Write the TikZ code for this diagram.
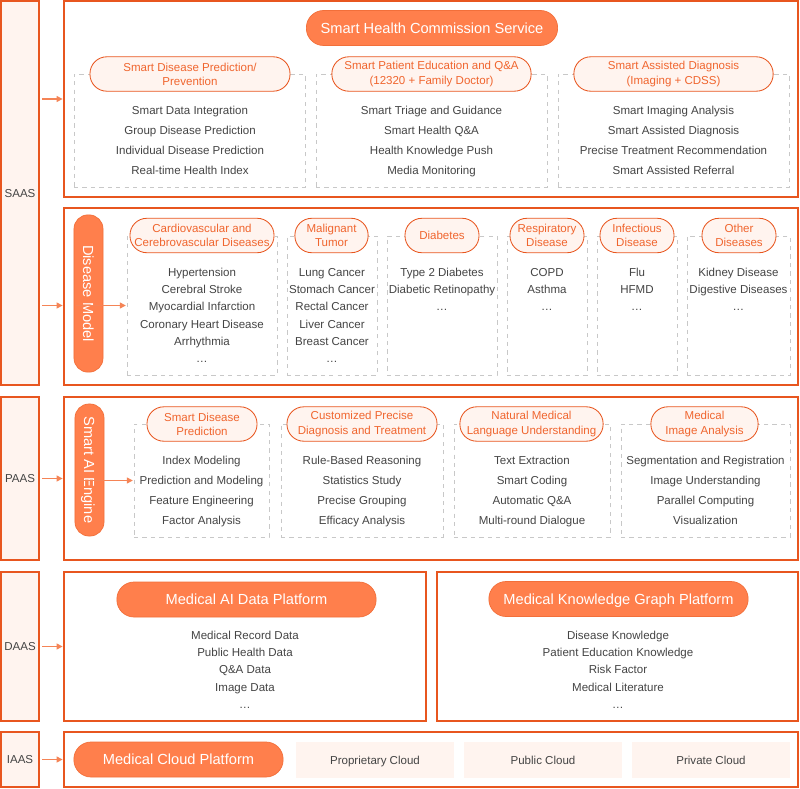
\documentclass[tikz,border=0pt]{standalone}
\usepackage{fontspec}
\setmainfont{Liberation Sans}
\usetikzlibrary{fit,calc,arrows.meta}

\definecolor{lineorange}{HTML}{E8561F}
\definecolor{pillorange}{HTML}{FF7F4C}
\definecolor{pillline}{HTML}{F26F3A}
\definecolor{paleorange}{HTML}{FFF4EF}
\definecolor{suborange}{HTML}{F0652E}
\definecolor{dashgray}{HTML}{C8C8C8}
\definecolor{itemgray}{HTML}{444444}
\definecolor{arroworange}{HTML}{F58456}

\begin{document}
\begin{tikzpicture}[%
    x=0.025cm, y=-0.025cm, >={Triangle[length=4.2pt,width=4.2pt]},
    font=\fontsize{8.2}{10}\selectfont,
    layerbox/.style={draw=lineorange, fill=paleorange, line width=0.8pt, inner sep=0pt,
      text=itemgray, minimum width=0.95cm, text height=5.9pt, text depth=0pt},
    frame/.style={draw=lineorange, fill=white, line width=0.8pt, inner sep=0pt},
    dbox/.style={draw=dashgray, dashed, line width=0.5pt, inner sep=0pt},
    bigpill/.style={fill=pillorange, draw=pillline, line width=0.5pt, text=white,
      rounded corners=0.43cm, minimum height=0.875cm, text height=7.5pt, text depth=0pt,
      font=\fontsize{10.4}{12}\selectfont},
    sidepill/.style={bigpill, rotate=-90, rounded corners=0.35cm, minimum height=0.725cm},
    subpill/.style={fill=paleorange, draw=lineorange, line width=0.6pt, text=suborange,
      align=center, rounded corners=0.42cm, minimum height=0.86cm, inner sep=1pt},
    item/.style={text=itemgray, inner sep=1pt, text height=5.9pt, text depth=0pt},
    cloud/.style={fill=paleorange, inner sep=0pt, text=itemgray, minimum width=3.95cm,
      minimum height=0.9cm, text height=5.9pt, text depth=0pt},
    arr/.style={->, draw=arroworange, line width=0.9pt, shorten <=2pt, shorten >=0.6pt}
  ]
    \useasboundingbox (0,0) rectangle (800,788);

    % layers on the left
    \node[layerbox, minimum height=9.6cm]   (saas) at (20,193)   {SAAS};
    \node[layerbox, minimum height=4.075cm] (paas) at (20,478.5) {PAAS};
    \node[layerbox, minimum height=3.725cm] (daas) at (20,646.5) {DAAS};
    \node[layerbox, minimum height=1.375cm] (iaas) at (20,759.5) {IAAS};

    % frames
    \node[frame, fit={(64,1) (798,197)}]     (frSvc)    {};
    \node[frame, fit={(64,208) (798,385)}]   (frModel)  {};
    \node[frame, fit={(64,397) (798,560)}]   (frEngine) {};
    \node[frame, fit={(64,572) (426,721)}]   (frData)   {};
    \node[frame, fit={(437,572) (798,721)}]  (frGraph)  {};
    \node[frame, fit={(64,732) (798,787)}]   (frCloud)  {};

    % SAAS: service
    \node[bigpill, minimum width=6.28cm] (svc) at (432,28) {Smart Health Commission Service};

    \node[dbox, fit={(74,74) (305,187)}]   (svcA) {};
    \node[dbox, fit={(316,74) (547,187)}]  (svcB) {};
    \node[dbox, fit={(558,74) (789,187)}]  (svcC) {};
    \node[subpill, minimum width=5cm]    (svcA-t) at (190,74)   {Smart Disease Prediction/\\Prevention};
    \node[subpill, minimum width=4.98cm] (svcB-t) at (431.5,74) {Smart Patient Education and Q\&A\\(12320 + Family Doctor)};
    \node[subpill, minimum width=4.98cm] (svcC-t) at (673.5,74) {Smart Assisted Diagnosis\\(Imaging + CDSS)};

    \foreach \txt [count=\i] in {Smart Data Integration, Group Disease Prediction,
        Individual Disease Prediction, Real-time Health Index}
      {\node[item] (svcA-\i) at (190,90+20*\i) {\txt};}
    \foreach \txt [count=\i] in {Smart Triage and Guidance, Smart Health Q\&A,
        Health Knowledge Push, Media Monitoring}
      {\node[item] (svcB-\i) at (431.5,90+20*\i) {\txt};}
    \foreach \txt [count=\i] in {Smart Imaging Analysis, Smart Assisted Diagnosis,
        Precise Treatment Recommendation, Smart Assisted Referral}
      {\node[item] (svcC-\i) at (673.5,90+20*\i) {\txt};}

    % SAAS: disease model
    \node[sidepill, minimum width=3.93cm] (model) at (88.5,293.5) {Disease Model};

    \node[dbox, fit={(127,236) (277,375)}] (cardio) {};
    \node[dbox, fit={(287,236) (377,375)}] (tumor)  {};
    \node[dbox, fit={(387,236) (497,375)}] (diab)   {};
    \node[dbox, fit={(507,236) (587,375)}] (resp)   {};
    \node[dbox, fit={(597,236) (677,375)}] (infect) {};
    \node[dbox, fit={(687,236) (790,375)}] (other)  {};
    \node[subpill, minimum width=3.6cm]  (cardio-t) at (202,235.5)   {Cardiovascular and\\Cerebrovascular Diseases};
    \node[subpill, minimum width=1.83cm] (tumor-t)  at (331.5,235.5) {Malignant\\Tumor};
    \node[subpill, minimum width=1.85cm] (diab-t)   at (442,235.5)   {Diabetes};
    \node[subpill, minimum width=1.85cm] (resp-t)   at (547,235.5)   {Respiratory\\Disease};
    \node[subpill, minimum width=1.85cm] (infect-t) at (637,235.5)   {Infectious\\Disease};
    \node[subpill, minimum width=1.85cm] (other-t)  at (739,235.5)   {Other\\Diseases};

    \foreach \txt [count=\i] in {Hypertension, Cerebral Stroke, Myocardial Infarction,
        Coronary Heart Disease, Arrhythmia, \ldots}
      {\node[item] (cardio-\i) at (202,254.7+17.3*\i) {\txt};}
    \foreach \txt [count=\i] in {Lung Cancer, Stomach Cancer, Rectal Cancer,
        Liver Cancer, Breast Cancer, \ldots}
      {\node[item] (tumor-\i) at (332,254.7+17.3*\i) {\txt};}
    \foreach \txt [count=\i] in {Type 2 Diabetes, Diabetic Retinopathy, \ldots}
      {\node[item] (diab-\i) at (442,254.7+17.3*\i) {\txt};}
    \foreach \txt [count=\i] in {COPD, Asthma, \ldots}
      {\node[item] (resp-\i) at (547,254.7+17.3*\i) {\txt};}
    \foreach \txt [count=\i] in {Flu, HFMD, \ldots}
      {\node[item] (infect-\i) at (637,254.7+17.3*\i) {\txt};}
    \foreach \txt [count=\i] in {Kidney Disease, Digestive Diseases, \ldots}
      {\node[item] (other-\i) at (738.5,254.7+17.3*\i) {\txt};}

    % PAAS: AI engine
    \node[sidepill, minimum width=3.3cm] (engine) at (89.5,470) {Smart AI Engine};

    \node[dbox, fit={(134,424) (269,537)}] (predict) {};
    \node[dbox, fit={(281,424) (443,537)}] (precise) {};
    \node[dbox, fit={(454,424) (610,537)}] (nlu)     {};
    \node[dbox, fit={(621,424) (790,537)}] (image)   {};
    \node[subpill, minimum width=2.75cm] (predict-t) at (202,424)   {Smart Disease\\Prediction};
    \node[subpill, minimum width=3.75cm] (precise-t) at (362,424)   {Customized Precise\\Diagnosis and Treatment};
    \node[subpill, minimum width=3.58cm] (nlu-t)     at (531.5,424) {Natural Medical\\Language Understanding};
    \node[subpill, minimum width=2.68cm] (image-t)   at (704.5,424) {Medical\\Image Analysis};

    \foreach \txt [count=\i] in {Index Modeling, Prediction and Modeling,
        Feature Engineering, Factor Analysis}
      {\node[item] (predict-\i) at (201.5,440+20*\i) {\txt};}
    \foreach \txt [count=\i] in {Rule-Based Reasoning, Statistics Study,
        Precise Grouping, Efficacy Analysis}
      {\node[item] (precise-\i) at (362,440+20*\i) {\txt};}
    \foreach \txt [count=\i] in {Text Extraction, Smart Coding,
        Automatic Q\&A, Multi-round Dialogue}
      {\node[item] (nlu-\i) at (532,440+20*\i) {\txt};}
    \foreach \txt [count=\i] in {Segmentation and Registration, Image Understanding,
        Parallel Computing, Visualization}
      {\node[item] (image-\i) at (705.5,440+20*\i) {\txt};}

    % DAAS
    \node[bigpill, minimum width=6.48cm] (data)  at (246.5,599.5) {Medical AI Data Platform};
    \node[bigpill, minimum width=6.48cm] (graph) at (618.5,599)   {Medical Knowledge Graph Platform};
    \foreach \txt [count=\i] in {Medical Record Data, Public Health Data,
        Q\&A Data, Image Data, \ldots}
      {\node[item] (data-\i) at (245,617.7+17.3*\i) {\txt};}
    \foreach \txt [count=\i] in {Disease Knowledge, Patient Education Knowledge,
        Risk Factor, Medical Literature, \ldots}
      {\node[item] (graph-\i) at (618,617.7+17.3*\i) {\txt};}

    % IAAS
    \node[bigpill, minimum width=5.23cm] (cloud) at (178.5,759.5) {Medical Cloud Platform};
    \node[cloud] (propcloud) at (375,760) {Proprietary Cloud};
    \node[cloud] (pubcloud)  at (543,760) {Public Cloud};
    \node[cloud] (privcloud) at (711,760) {Private Cloud};

    % arrows
    \path (saas.east |- frSvc.west)   edge[arr] (frSvc.west)
          (saas.east |- cardio.west)  edge[arr] (frModel.west |- cardio.west)
          (model.south |- cardio.west) edge[arr] (cardio.west)
          (paas.east |- frEngine.west) edge[arr] (frEngine.west)
          (engine.south |- predict.west) edge[arr] (predict.west)
          (daas.east |- frData.west)  edge[arr] (frData.west)
          (iaas.east |- frCloud.west) edge[arr] (frCloud.west);
  \end{tikzpicture}
\end{document}
